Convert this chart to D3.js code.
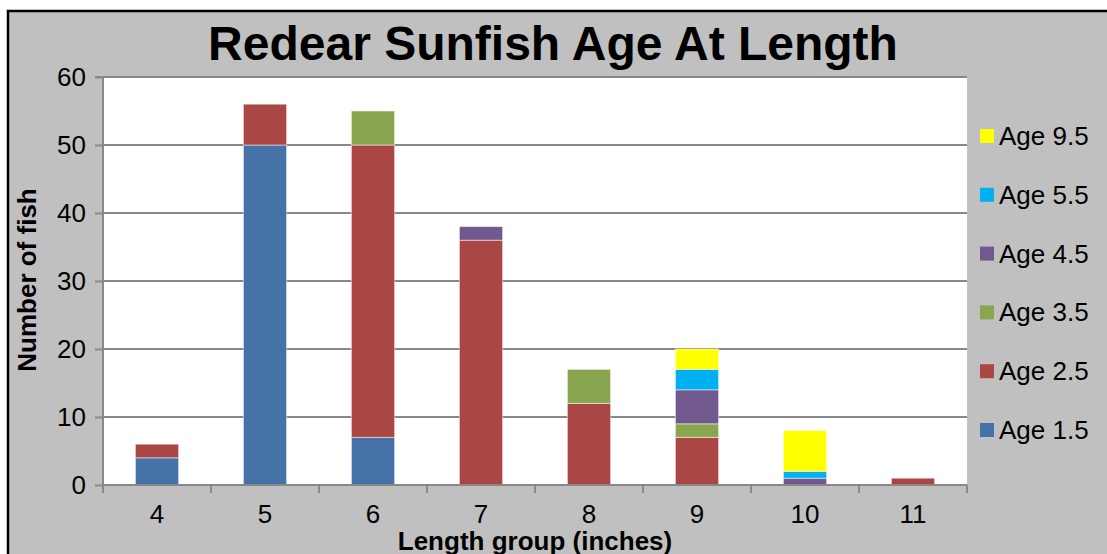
<!DOCTYPE html>
<html>
<head>
<meta charset="utf-8">
<script src="https://cdn.jsdelivr.net/npm/d3@7"></script>
<style>
  body { margin: 0; background: #fff; }
  text { font-family: "Liberation Sans", Arial, sans-serif; }
</style>
</head>
<body>
<div id="chart"></div>
<script>
// Length groups (inches) on the x axis
const lengths = ['4', '5', '6', '7', '8', '9', '10', '11'];
// Series in stacking order, bottom first
const ages = ['Age 1.5', 'Age 2.5', 'Age 3.5', 'Age 4.5', 'Age 5.5', 'Age 9.5'];
const colors = ['#4572A7', '#AA4643', '#89A54E', '#71588F', '#00B0F0', '#FFFF00'];
// Number of fish per length group for each age
const age15 = [4, 50, 7, 0, 0, 0, 0, 0];
const age25 = [2, 6, 43, 36, 12, 7, 0, 1];
const age35 = [0, 0, 5, 0, 5, 2, 0, 0];
const age45 = [0, 0, 0, 2, 0, 5, 1, 0];
const age55 = [0, 0, 0, 0, 0, 3, 1, 0];
const age95 = [0, 0, 0, 0, 0, 3, 6, 0];
const yTicks = [0, 10, 20, 30, 40, 50, 60];

const width = 1107, height = 554;
const margin = {top: 77, right: 140, bottom: 69, left: 103};
const cWidth = width - margin.left - margin.right;
const cHeight = height - margin.top - margin.bottom;

const seriesValues = [age15, age25, age35, age45, age55, age95];
const rows = lengths.map((l, i) => {
  const r = {length: l};
  ages.forEach((a, j) => { r[a] = seriesValues[j][i]; });
  return r;
});

const svg = d3.select('#chart').append('svg')
  .attr('width', width).attr('height', height);

// chart background and border
svg.append('rect').attr('x', 0).attr('y', 0).attr('width', width).attr('height', height).attr('fill', '#fff');
svg.append('rect')
  .attr('x', 8).attr('y', 11).attr('width', width).attr('height', height)
  .attr('fill', '#C0C0C0').attr('stroke', '#000').attr('stroke-width', 2.5);

// title
svg.append('text')
  .attr('x', 553).attr('y', 60)
  .attr('text-anchor', 'middle')
  .style('font-size', '48px').style('font-weight', 'bold')
  .text('Redear Sunfish Age At Length');

const x = d3.scaleBand().domain(lengths).range([0, cWidth]).paddingInner(0.6).paddingOuter(0.3);
const y = d3.scaleLinear().domain([0, 60]).range([cHeight, 0]);
const z = d3.scaleOrdinal().domain(ages).range(colors);

const g = svg.append('g').attr('transform', `translate(${margin.left},${margin.top})`);

// plot area
g.append('rect').attr('width', cWidth).attr('height', cHeight).attr('fill', '#fff');

// gridlines
g.selectAll('.grid').data(yTicks.filter(t => t > 0)).enter().append('line')
  .attr('x1', 0).attr('x2', cWidth)
  .attr('y1', d => y(d)).attr('y2', d => y(d))
  .attr('stroke', '#888').attr('stroke-width', 2);

// stacked bars
const stack = d3.stack().keys(ages)(rows);
g.selectAll('.series').data(stack).enter().append('g')
  .attr('fill', d => z(d.key))
  .selectAll('rect').data(d => d.filter(s => s[1] - s[0] > 0)).enter().append('rect')
  .attr('x', d => x(d.data.length))
  .attr('width', x.bandwidth())
  .attr('y', d => y(d[1]))
  .attr('height', d => y(d[0]) - y(d[1]))
  .attr('stroke', 'rgba(255,255,255,0.5)').attr('stroke-width', 1);

// y axis
const yAxis = g.append('g')
  .call(d3.axisLeft(y).tickValues(yTicks).tickSize(8).tickPadding(9));
yAxis.select('.domain').attr('stroke', '#888').attr('stroke-width', 2).attr('d', `M-8,0H0V${cHeight}`);
yAxis.selectAll('.tick line').attr('stroke', '#888').attr('stroke-width', 2);
yAxis.selectAll('.tick text').style('font-size', '26px').attr('fill', '#000');

// x axis with ticks at category boundaries
const xAxis = g.append('g').attr('transform', `translate(0,${cHeight})`)
  .call(d3.axisBottom(x).tickSize(0).tickPadding(20));
xAxis.select('.domain').attr('stroke', '#888').attr('stroke-width', 2).attr('d', `M0,0H${cWidth}`);
xAxis.selectAll('.tick text').style('font-size', '26px').attr('fill', '#000');
const step = cWidth / lengths.length;
xAxis.selectAll('.bound').data(d3.range(lengths.length + 1)).enter().append('line')
  .attr('x1', i => i * step).attr('x2', i => i * step)
  .attr('y1', 0).attr('y2', 8)
  .attr('stroke', '#888').attr('stroke-width', 2);

// axis titles
svg.append('text')
  .attr('x', 535).attr('y', 550)
  .attr('text-anchor', 'middle')
  .style('font-size', '26px').style('font-weight', 'bold')
  .text('Length group (inches)');
svg.append('text')
  .attr('transform', 'translate(36,280) rotate(-90)')
  .attr('text-anchor', 'middle')
  .style('font-size', '26px').style('font-weight', 'bold')
  .text('Number of fish');

// legend, top entry is the last series
const legend = svg.selectAll('.legend').data(ages.slice().reverse()).enter().append('g')
  .attr('transform', (d, i) => `translate(980,${136 + i * 58.8})`);
legend.append('rect')
  .attr('x', 0).attr('y', -7).attr('width', 14).attr('height', 14)
  .attr('fill', d => z(d));
legend.append('text')
  .attr('x', 19).attr('y', 9)
  .style('font-size', '26px')
  .text(d => d);
</script>
</body>
</html>
